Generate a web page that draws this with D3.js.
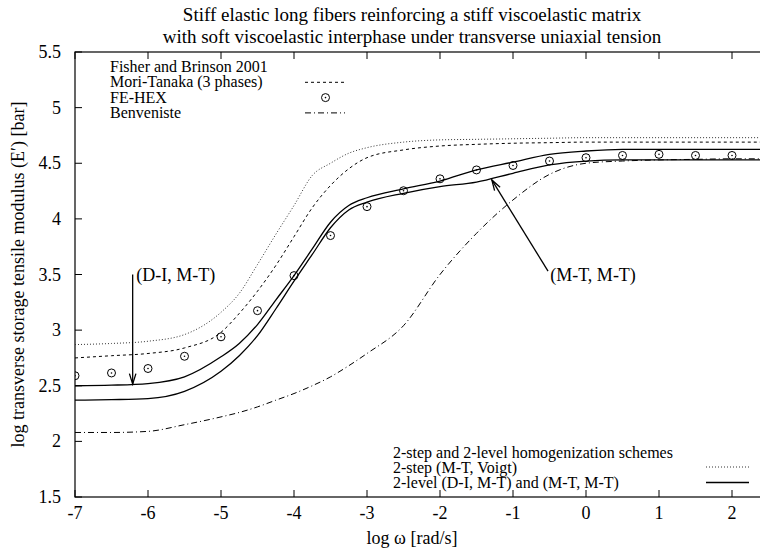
<!DOCTYPE html>
<html>
<head>
<meta charset="utf-8">
<script src="https://cdn.jsdelivr.net/npm/d3@7"></script>
<style>
  body { margin: 0; background: #fff; }
  svg text { font-family: "Liberation Serif", "DejaVu Serif", serif; fill: #000; }
</style>
</head>
<body>
<div class="canvas"></div>
<script>
// data (log omega -> log E')
const xGrid = [-7, -6.5, -6, -5.5, -5, -4.75, -4.5, -4.25, -4, -3.75, -3.5, -3.25, -3, -2.5, -2, -1.5, -1, -0.5, 0, 0.5, 1, 1.5, 2, 2.5]
const voigt = [2.87, 2.88, 2.90, 2.96, 3.16, 3.33, 3.59, 3.86, 4.12, 4.39, 4.50, 4.59, 4.64, 4.69, 4.71, 4.715, 4.72, 4.725, 4.73, 4.73, 4.73, 4.73, 4.73, 4.73]
const moriTanaka = [2.75, 2.77, 2.79, 2.84, 2.98, 3.15, 3.35, 3.58, 3.84, 4.10, 4.30, 4.45, 4.55, 4.62, 4.655, 4.67, 4.68, 4.685, 4.69, 4.69, 4.69, 4.69, 4.69, 4.69]
const diMt = [2.50, 2.505, 2.52, 2.58, 2.76, 2.88, 3.05, 3.27, 3.49, 3.73, 3.97, 4.12, 4.19, 4.27, 4.34, 4.44, 4.51, 4.58, 4.61, 4.625, 4.625, 4.625, 4.625, 4.625]
const mtMt = [2.37, 2.375, 2.385, 2.45, 2.63, 2.77, 2.95, 3.19, 3.44, 3.68, 3.92, 4.08, 4.15, 4.23, 4.29, 4.33, 4.41, 4.485, 4.52, 4.53, 4.53, 4.53, 4.53, 4.53]
const benveniste = [2.08, 2.08, 2.09, 2.15, 2.22, 2.26, 2.31, 2.37, 2.43, 2.50, 2.58, 2.68, 2.79, 3.04, 3.50, 3.87, 4.17, 4.40, 4.50, 4.52, 4.53, 4.535, 4.54, 4.54]

const feX = [-7, -6.5, -6, -5.5, -5, -4.5, -4, -3.5, -3, -2.5, -2, -1.5, -1, -0.5, 0, 0.5, 1, 1.5, 2]
const feY = [2.59, 2.615, 2.655, 2.765, 2.94, 3.175, 3.49, 3.85, 4.11, 4.253, 4.36, 4.44, 4.48, 4.52, 4.55, 4.57, 4.58, 4.57, 4.57]

const xTicks = [-7, -6, -5, -4, -3, -2, -1, 0, 1, 2]
const yTicks = [1.5, 2, 2.5, 3, 3.5, 4, 4.5, 5, 5.5]

const titleLines = ['Stiff elastic long fibers reinforcing a stiff viscoelastic matrix',
                    'with soft viscoelastic interphase under transverse uniaxial tension']
const legendTop = ['Fisher and Brinson 2001', 'Mori-Tanaka (3 phases)', 'FE-HEX', 'Benveniste']
const legendBottom = ['2-step and 2-level homogenization schemes', '2-step (M-T, Voigt)', '2-level (D-I, M-T) and (M-T, M-T)']

const width = 760, height = 548
const svg = d3.select('.canvas').append('svg')
    .attr('width', width)
    .attr('height', height)

const pLeft = 75, pTop = 52, pBottom = 497
const x = d3.scaleLinear().domain([-7, 2.5]).range([pLeft, pLeft + 9.5 * 73])
const y = d3.scaleLinear().domain([1.5, 5.5]).range([pBottom, pTop])
const pRight = x(2.5)

svg.append('clipPath').attr('id', 'clip')
    .append('rect').attr('x', pLeft).attr('y', pTop).attr('width', pRight - pLeft).attr('height', pBottom - pTop)

// frame
svg.append('rect')
    .attr('x', pLeft).attr('y', pTop)
    .attr('width', pRight - pLeft).attr('height', pBottom - pTop)
    .attr('fill', 'none').attr('stroke', '#000').attr('stroke-width', 1.2)

// ticks, gnuplot style (inside, mirrored)
const tl = 7
xTicks.forEach(t => {
    svg.append('line').attr('x1', x(t)).attr('x2', x(t)).attr('y1', pBottom).attr('y2', pBottom - tl).attr('stroke', '#000')
    svg.append('line').attr('x1', x(t)).attr('x2', x(t)).attr('y1', pTop).attr('y2', pTop + tl).attr('stroke', '#000')
    svg.append('text').attr('x', x(t)).attr('y', pBottom + 22)
        .attr('text-anchor', 'middle').attr('font-size', 18).text(t)
})
yTicks.forEach(t => {
    svg.append('line').attr('x1', pLeft).attr('x2', pLeft + tl).attr('y1', y(t)).attr('y2', y(t)).attr('stroke', '#000')
    svg.append('line').attr('x1', pRight).attr('x2', pRight - tl).attr('y1', y(t)).attr('y2', y(t)).attr('stroke', '#000')
    svg.append('text').attr('x', 61).attr('y', y(t) + 6)
        .attr('text-anchor', 'end').attr('font-size', 18).text(t)
})

// titles
titleLines.forEach((s, i) => {
    svg.append('text').attr('x', 412).attr('y', 21 + i * 22)
        .attr('text-anchor', 'middle').attr('font-size', 19).text(s)
})
svg.append('text').attr('x', 412).attr('y', 544)
    .attr('text-anchor', 'middle').attr('font-size', 18).text('log ω [rad/s]')
svg.append('text')
    .attr('transform', 'translate(24,' + ((pTop + pBottom) / 2) + ') rotate(-90)')
    .attr('text-anchor', 'middle').attr('font-size', 18)
    .text('log transverse storage tensile modulus (E′) [bar]')

// curves
const line = d3.line().x(d => x(d[0])).y(d => y(d[1])).curve(d3.curveMonotoneX)
const plot = svg.append('g').attr('clip-path', 'url(#clip)')

const series = [
    { v: voigt, dash: '1,2', w: 1, c: '#333' },
    { v: moriTanaka, dash: '3,3', w: 1, c: '#000' },
    { v: diMt, dash: null, w: 1.3, c: '#000' },
    { v: mtMt, dash: null, w: 1.3, c: '#000' },
    { v: benveniste, dash: '6,3,1,3', w: 1, c: '#000' }
]
series.forEach(s => {
    plot.append('path')
        .attr('d', line(xGrid.map((d, i) => [d, s.v[i]])))
        .attr('fill', 'none')
        .attr('stroke', s.c)
        .attr('stroke-width', s.w)
        .attr('stroke-dasharray', s.dash)
})

// FE-HEX points
const pts = feX.map((d, i) => [d, feY[i]])
plot.selectAll('.fe').data(pts).enter().append('circle')
    .attr('cx', d => x(d[0])).attr('cy', d => y(d[1])).attr('r', 4)
    .attr('fill', 'none').attr('stroke', '#000').attr('stroke-width', 1)
plot.selectAll('.fedot').data(pts).enter().append('circle')
    .attr('cx', d => x(d[0])).attr('cy', d => y(d[1])).attr('r', 0.8)
    .attr('fill', '#000')

// legends
legendTop.forEach((s, i) => {
    svg.append('text').attr('x', 110).attr('y', 72 + i * 15.3).attr('font-size', 16).text(s)
})
const ly = i => 67 + i * 15.3
svg.append('line').attr('x1', 305).attr('x2', 345).attr('y1', ly(1)).attr('y2', ly(1))
    .attr('stroke', '#000').attr('stroke-dasharray', '3,3')
svg.append('circle').attr('cx', 325.5).attr('cy', ly(2)).attr('r', 4).attr('fill', 'none').attr('stroke', '#000')
svg.append('circle').attr('cx', 325.5).attr('cy', ly(2)).attr('r', 0.8).attr('fill', '#000')
svg.append('line').attr('x1', 305).attr('x2', 345).attr('y1', ly(3)).attr('y2', ly(3))
    .attr('stroke', '#000').attr('stroke-dasharray', '6,3,1,3')

legendBottom.forEach((s, i) => {
    svg.append('text').attr('x', 393).attr('y', 458 + i * 15.2).attr('font-size', 16).text(s)
})
svg.append('line').attr('x1', 706).attr('x2', 749).attr('y1', 467).attr('y2', 467)
    .attr('stroke', '#333').attr('stroke-dasharray', '1,2')
svg.append('line').attr('x1', 706).attr('x2', 749).attr('y1', 482.5).attr('y2', 482.5)
    .attr('stroke', '#000').attr('stroke-width', 1.3)

// annotations with open arrow heads
function arrow(x0, y0, x1, y1) {
    const a = Math.atan2(y1 - y0, x1 - x0), L = 11, h = 0.3
    svg.append('line').attr('x1', x0).attr('y1', y0).attr('x2', x1).attr('y2', y1)
        .attr('stroke', '#000').attr('stroke-width', 1.3)
    svg.append('path')
        .attr('d', 'M' + (x1 - L * Math.cos(a - h)) + ',' + (y1 - L * Math.sin(a - h)) +
                   'L' + x1 + ',' + y1 +
                   'L' + (x1 - L * Math.cos(a + h)) + ',' + (y1 - L * Math.sin(a + h)))
        .attr('fill', 'none').attr('stroke', '#000').attr('stroke-width', 1.3)
}
arrow(x(-6.21), y(3.5), x(-6.21), y(2.515))
svg.append('text').attr('x', x(-6.16)).attr('y', y(3.5) + 6).attr('font-size', 18).text('(D-I, M-T)')
arrow(x(-0.52), y(3.53), x(-1.29), y(4.35))
svg.append('text').attr('x', x(-0.49)).attr('y', y(3.5) + 6).attr('font-size', 18).text('(M-T, M-T)')
</script>
</body>
</html>
